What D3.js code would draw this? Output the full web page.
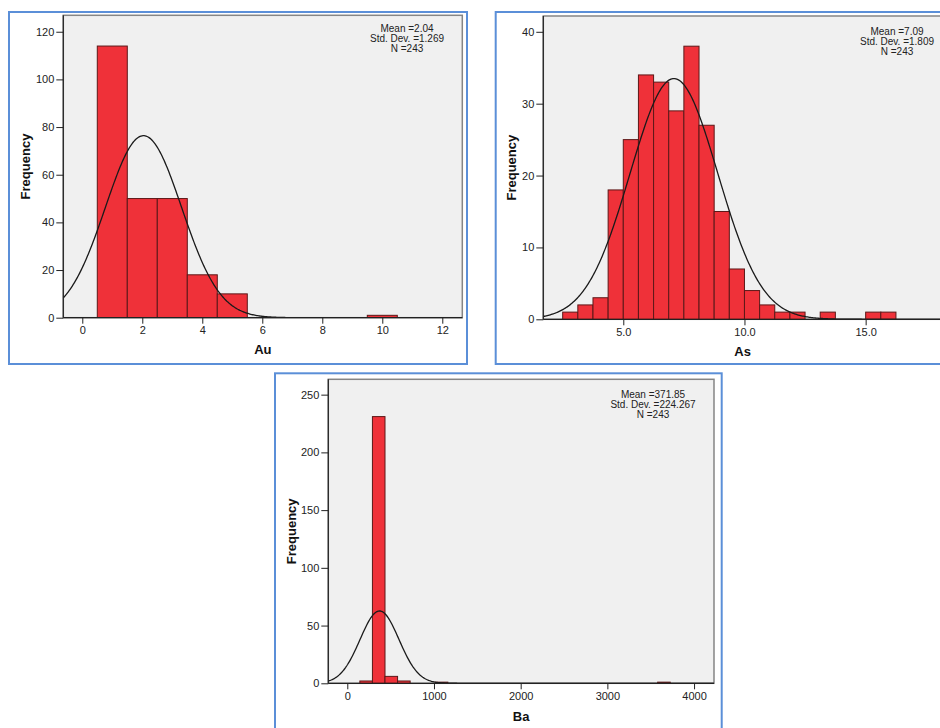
<!DOCTYPE html>
<html>
<head>
  <title>Histograms</title>
  <style type="text/css">
    body { margin: 0; background: #fff; }
    svg text { font-family: Arial, "Liberation Sans", sans-serif; }
    .tick text { font-size: 11px; fill: #222; }
    .tick line, .domain { stroke: #222; }
    .axis-title { font-size: 13px; font-weight: bold; fill: #111; }
    .stats { font-size: 10px; fill: #222; }
  </style>
</head>
<body>
<div id="chart"></div>
<script src="https://cdnjs.cloudflare.com/ajax/libs/d3/7.8.5/d3.min.js"></script>
<script>
  // Au histogram: bin start and frequency, bin width 1
  var auBinStart = [0.5, 1.5, 2.5, 3.5, 4.5, 9.5];
  var auCounts   = [114, 50, 50, 18, 10, 1];
  var auStats    = { mean: 2.04, sd: 1.269, n: 243, width: 1 };
  var auXTicks   = [0, 2, 4, 6, 8, 10, 12];
  var auYTicks   = [0, 20, 40, 60, 80, 100, 120];

  // As histogram, bin width 0.625
  var asBinStart = [2.5, 3.125, 3.75, 4.375, 5.0, 5.625, 6.25, 6.875, 7.5, 8.125,
                    8.75, 9.375, 10.0, 10.625, 11.25, 11.875, 13.125, 15.0, 15.625];
  var asCounts   = [1, 2, 3, 18, 25, 34, 33, 29, 38, 27,
                    15, 7, 4, 2, 1, 1, 1, 1, 1];
  var asStats    = { mean: 7.09, sd: 1.809, n: 243, width: 0.625 };
  var asXTicks   = [5, 10, 15];
  var asYTicks   = [0, 10, 20, 30, 40];

  // Ba histogram, bin width 145
  var baBinStart = [145, 290, 435, 580, 1015, 3580];
  var baCounts   = [2, 231, 6, 2, 1, 1];
  var baStats    = { mean: 371.85, sd: 224.267, n: 243, width: 145 };
  var baXTicks   = [0, 1000, 2000, 3000, 4000];
  var baYTicks   = [0, 50, 100, 150, 200, 250];

  var svg = d3.select('#chart').append('svg')
    .attr('width', 940)
    .attr('height', 728);

  var panels = [
    { id: 'au', title: 'Au', starts: auBinStart, counts: auCounts, stats: auStats,
      xTicks: auXTicks, yTicks: auYTicks, fmt: d3.format('d'), sfmt: ['2.04', '1.269'],
      box: [9, 12, 467, 364], plot: [63.3, 15.3, 462.3, 317.7],
      xDom: [-0.633, 12.667], yDom: [0, 126.9], statX: 407, statY: 32,
      titleY: 354, freqX: 30 },
    { id: 'as', title: 'As', starts: asBinStart, counts: asCounts, stats: asStats,
      xTicks: asXTicks, yTicks: asYTicks, fmt: d3.format('.1f'), sfmt: ['7.09', '1.809'],
      box: [495.7, 12, 953.7, 364], plot: [543.3, 16, 942, 319.3],
      xDom: [1.70, 18.15], yDom: [0, 42.2], statX: 897, statY: 35,
      titleY: 356, freqX: 516 },
    { id: 'ba', title: 'Ba', starts: baBinStart, counts: baCounts, stats: baStats,
      xTicks: baXTicks, yTicks: baYTicks, fmt: d3.format('d'), sfmt: ['371.85', '224.267'],
      box: [275, 373.3, 721.7, 729.5], plot: [328.3, 379.3, 714, 683.3],
      xDom: [-219, 4230], yDom: [0, 263.3], statX: 653, statY: 398,
      titleY: 721, freqX: 296 }
  ];

  var drawPanel = function(p) {
    var g = svg.append('g');
    var L = p.plot[0], T = p.plot[1], R = p.plot[2], B = p.plot[3];

    var x = d3.scaleLinear().domain(p.xDom).range([L, R]);
    var y = d3.scaleLinear().domain(p.yDom).range([B, T]);

    // blue outer border
    g.append('rect')
      .attr('x', p.box[0]).attr('y', p.box[1])
      .attr('width', p.box[2] - p.box[0]).attr('height', p.box[3] - p.box[1])
      .attr('fill', '#fff')
      .attr('stroke', '#5b8fd8')
      .attr('stroke-width', 2);

    // plot background
    g.append('rect')
      .attr('x', L).attr('y', T)
      .attr('width', R - L).attr('height', B - T)
      .attr('fill', '#f0f0f0')
      .attr('stroke', '#858585')
      .attr('stroke-width', 1.5);

    g.append('clipPath').attr('id', 'clip-' + p.id)
      .append('rect')
      .attr('x', L).attr('y', T - 2)
      .attr('width', R - L).attr('height', B - T + 2);

    var inner = g.append('g').attr('clip-path', 'url(#clip-' + p.id + ')');

    var bins = p.starts.map(function(s, i) { return { x0: s, x1: s + p.stats.width, n: p.counts[i] } });

    inner.selectAll('rect.bar')
      .data(bins)
      .enter()
      .append('rect')
      .classed('bar', true)
      .attr('x', function(d) { return x(d.x0) })
      .attr('y', function(d) { return y(d.n) })
      .attr('width', function(d) { return x(d.x1) - x(d.x0) })
      .attr('height', function(d) { return B - y(d.n) })
      .attr('fill', '#ef3139')
      .attr('stroke', '#5c1818')
      .attr('stroke-width', 1);

    // fitted normal curve from the stats
    var s = p.stats;
    var k = s.n * s.width / (s.sd * Math.sqrt(2 * Math.PI));
    var xs = d3.range(0, 401).map(function(i) { return p.xDom[0] + (p.xDom[1] - p.xDom[0]) * i / 400 });
    var line = d3.line()
      .x(function(v) { return x(v) })
      .y(function(v) { var z = (v - s.mean) / s.sd; return y(k * Math.exp(-0.5 * z * z)) });
    inner.append('path')
      .attr('d', line(xs))
      .attr('fill', 'none')
      .attr('stroke', '#1a1a1a')
      .attr('stroke-width', 1.3);

    // axes
    var xAxis = d3.axisBottom(x).tickValues(p.xTicks).tickFormat(p.fmt).tickSize(6).tickPadding(3);
    var yAxis = d3.axisLeft(y).tickValues(p.yTicks).tickFormat(d3.format('d')).tickSize(7).tickPadding(2);

    var gx = g.append('g').attr('transform', 'translate(0,' + B + ')').call(xAxis);
    gx.select('.domain').remove();
    var gy = g.append('g').attr('transform', 'translate(' + L + ',0)').call(yAxis);
    gy.select('.domain').remove();

    g.append('line').attr('x1', L).attr('x2', R).attr('y1', B).attr('y2', B)
      .attr('stroke', '#222').attr('stroke-width', 1.2);
    g.append('line').attr('x1', L).attr('x2', L).attr('y1', T).attr('y2', B)
      .attr('stroke', '#222').attr('stroke-width', 1.2);

    // titles
    g.append('text').classed('axis-title', true)
      .attr('x', (L + R) / 2).attr('y', p.titleY)
      .attr('text-anchor', 'middle')
      .text(p.title);
    g.append('text').classed('axis-title', true)
      .attr('transform', 'translate(' + p.freqX + ',' + ((T + B) / 2) + ') rotate(-90)')
      .attr('text-anchor', 'middle')
      .text('Frequency');

    // stats box
    var lines = ['Mean =' + p.sfmt[0], 'Std. Dev. =' + p.sfmt[1], 'N =' + s.n];
    g.selectAll('text.stats')
      .data(lines)
      .enter()
      .append('text')
      .classed('stats', true)
      .attr('x', p.statX)
      .attr('y', function(d, i) { return p.statY + i * 10 })
      .attr('text-anchor', 'middle')
      .text(function(d) { return d });
  }

  panels.forEach(drawPanel);
</script>
</body>
</html>
